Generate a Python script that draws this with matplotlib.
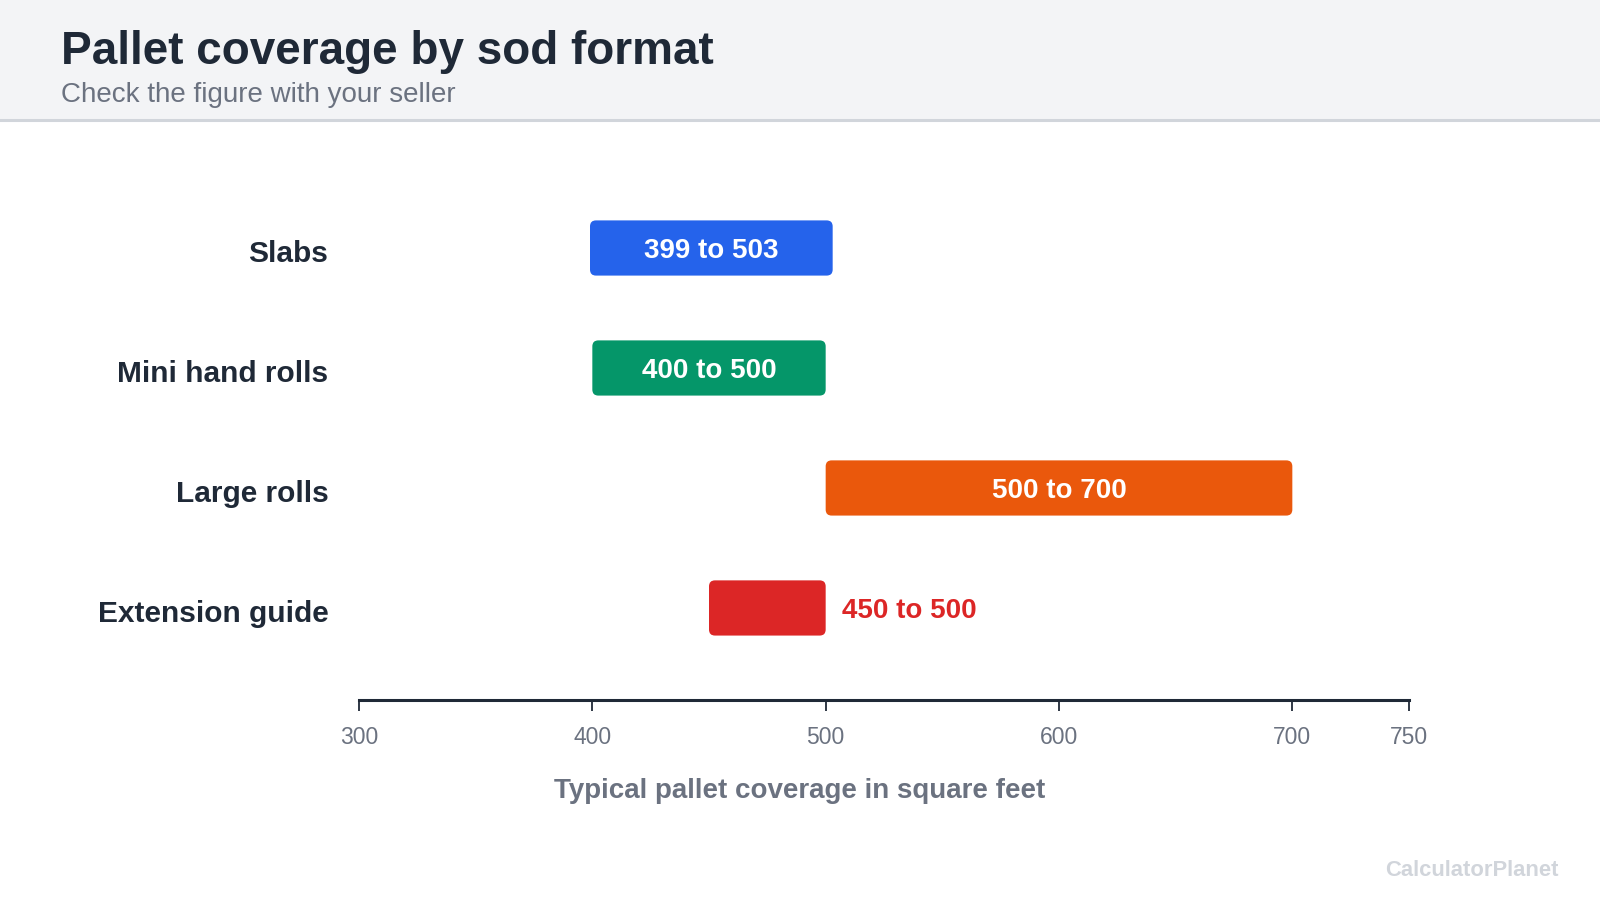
import matplotlib.pyplot as plt
from matplotlib.patches import FancyBboxPatch, Rectangle
from matplotlib.lines import Line2D

plt.rcParams["font.family"] = ["Liberation Sans", "DejaVu Sans"]

CATEGORIES = ["Slabs", "Mini hand rolls", "Large rolls", "Extension guide"]
LOW = [399, 400, 500, 450]
HIGH = [503, 500, 700, 500]
COLORS = ["#2563eb", "#059669", "#ea580c", "#dc2626"]
X_TICKS = [300, 400, 500, 600, 700, 750]

TITLE = "Pallet coverage by sod format"
SUBTITLE = "Check the figure with your seller"
X_LABEL = "Typical pallet coverage in square feet"
WATERMARK = "CalculatorPlanet"

DARK = "#1f2937"
GRAY = "#6b7280"

fig = plt.figure(figsize=(16, 9), dpi=100)
fig.patch.set_facecolor("white")

# header band
fig.patches.append(Rectangle((0, 1 - 119 / 900), 1, 119 / 900, transform=fig.transFigure,
                             facecolor="#f3f4f6", edgecolor="none", zorder=0))
fig.lines.append(Line2D([0, 1], [1 - 120 / 900, 1 - 120 / 900], transform=fig.transFigure,
                        color="#d1d5db", linewidth=2.2))
fig.text(61 / 1600, 1 - 52 / 900, TITLE, fontsize=33, fontweight="bold", color=DARK,
         ha="left", va="center")
fig.text(61 / 1600, 1 - 95 / 900, SUBTITLE, fontsize=20, color=GRAY, ha="left", va="center")

ax = fig.add_axes([359 / 1600, 1 - 700 / 900, 1050 / 1600, 572 / 900])
ax.set_xlim(300, 750)
ax.set_ylim(3.767, -1.0)

rows = list(range(len(CATEGORIES)))
widths = [h - l for l, h in zip(LOW, HIGH)]
bars = ax.barh(rows, widths, left=LOW, height=0.46, color=COLORS)

# swap the plain bars for rounded ones
x_per_px = 450 / 1050
y_per_px = 1 / 120
for bar, color in zip(bars, COLORS):
    x, y = bar.get_x(), bar.get_y()
    w, h = bar.get_width(), bar.get_height()
    bar.set_visible(False)
    ax.add_patch(FancyBboxPatch((x, y), w, h,
                                boxstyle=f"round,pad=0,rounding_size={6 * x_per_px}",
                                mutation_aspect=y_per_px / x_per_px,
                                facecolor=color, edgecolor="none"))

for row, lo, hi, color in zip(rows, LOW, HIGH, COLORS):
    label = f"{lo} to {hi}"
    ty = row + 3 * y_per_px
    if hi - lo >= 100:
        ax.text((lo + hi) / 2, ty, label, ha="center", va="center", color="white",
                fontsize=20, fontweight="bold")
    else:
        ax.text(hi + 16 * x_per_px, ty, label, ha="left", va="center", color=color,
                fontsize=20, fontweight="bold")

ax.set_yticks([r + 3 * y_per_px for r in rows])
ax.set_yticklabels(CATEGORIES, fontsize=21.5, fontweight="bold", color=DARK)
ax.tick_params(axis="y", length=0, pad=22)

ax.set_xticks(X_TICKS)
ax.set_xticklabels([str(t) for t in X_TICKS], fontsize=16.5, color=GRAY)
ax.tick_params(axis="x", length=8, width=1.3, color=DARK, pad=11)

for side in ("left", "right", "top"):
    ax.spines[side].set_visible(False)
ax.spines["bottom"].set_linewidth(2.2)
ax.spines["bottom"].set_color(DARK)
ax.set_facecolor("none")

fig.text(0.5, 1 - 791 / 900, X_LABEL, fontsize=20, fontweight="bold", color=GRAY,
         ha="center", va="center")
fig.text(1559 / 1600, 1 - 870 / 900, WATERMARK, fontsize=15.8, fontweight="bold",
         color="#d1d5db", ha="right", va="center")

fig.savefig("out.png", dpi=100)
